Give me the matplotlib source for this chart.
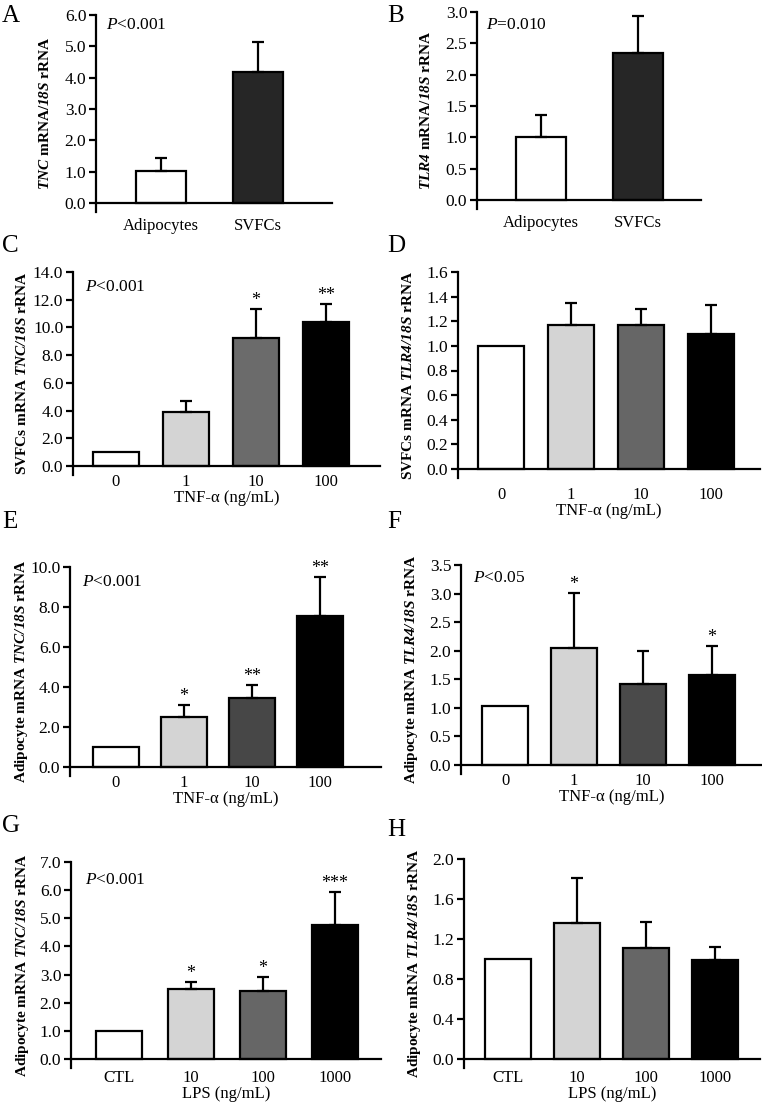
import numpy as np
import matplotlib
matplotlib.use("Agg")
import matplotlib.pyplot as plt

plt.rcParams['font.family'] = 'Liberation Serif'
plt.rcParams['mathtext.fontset'] = 'custom'
plt.rcParams['mathtext.rm'] = 'Liberation Serif'
plt.rcParams['mathtext.it'] = 'Liberation Serif:italic'
plt.rcParams['mathtext.bf'] = 'Liberation Serif:bold'
plt.rcParams['mathtext.bfit'] = 'Liberation Serif:italic:bold'

# data (bar height, top of error bar)
cells = ['Adipocytes', 'SVFCs']
tnf_doses = ['0', '1', '10', '100']
lps_doses = ['CTL', '10', '100', '1000']

a_mean = [1.01, 4.17]
a_top = [1.44, 5.14]
b_mean = [1.0, 2.34]
b_top = [1.35, 2.94]

c_mean = [1.0, 3.88, 9.26, 10.42]
c_top = [1.0, 4.66, 11.35, 11.7]
c_stars = ['', '', '*', '**']

d_mean = [1.0, 1.17, 1.17, 1.1]
d_top = [1.0, 1.35, 1.30, 1.33]

e_mean = [1.0, 2.52, 3.47, 7.53]
e_top = [1.0, 3.09, 4.1, 9.49]
e_stars = ['', '*', '**', '**']

f_mean = [1.03, 2.05, 1.42, 1.57]
f_top = [1.03, 3.01, 1.99, 2.09]
f_stars = ['', '*', '', '*']

g_mean = [1.0, 2.48, 2.42, 4.77]
g_top = [1.0, 2.72, 2.9, 5.93]
g_stars = ['', '*', '*', '***']

h_mean = [1.0, 1.36, 1.11, 0.99]
h_top = [1.0, 1.81, 1.37, 1.12]

W, H = 762, 1110
fig = plt.figure(figsize=(W / 100, H / 100), dpi=100)


def panel(box, c0, step, ymax, ystep, labels, means, tops, colors, letter, letter_xy,
          ylabel, ylab_x, stars=None, ptext=None, poff=(10, 10), xlabel=None, barw=46,
          xpad=6):
    left, right, top, zero = box
    ext = 9
    ax = fig.add_axes([left / W, 1 - (zero + ext) / H, (right - left) / W, (zero + ext - top) / H])
    n = len(means)
    x = np.arange(n)
    ax.bar(x, means, width=barw / step, color=colors, edgecolor='black', linewidth=1.6, zorder=2)
    idx = [i for i in range(n) if tops[i] > means[i]]
    err = [[0] * len(idx), [tops[i] - means[i] for i in idx]]
    ax.errorbar([x[i] for i in idx], [means[i] for i in idx], yerr=err, fmt='none',
                ecolor='black', elinewidth=1.6, capsize=4.3, capthick=1.6, zorder=3)
    if stars:
        for i, s in enumerate(stars):
            if s:
                ax.annotate(s, (x[i], tops[i]), xytext=(0, 0), textcoords='offset points',
                            ha='center', va='bottom', fontsize=13)
    ax.set_xlim(-(c0 - left) / step, (right - c0) / step)
    ax.set_ylim(-ext / (zero - top) * ymax, ymax)
    ax.set_yticks(np.arange(0, ymax + ystep / 2, ystep))
    ax.yaxis.set_major_formatter(matplotlib.ticker.FormatStrFormatter('%.1f'))
    ax.set_xticks(x)
    ax.set_xticklabels(labels)
    for s in ['top', 'right']:
        ax.spines[s].set_visible(False)
    ax.spines['bottom'].set_position(('data', 0))
    ax.spines['left'].set_linewidth(1.6)
    ax.spines['bottom'].set_linewidth(1.6)
    ax.tick_params(axis='y', direction='out', length=5, width=1.6, labelsize=12.5, pad=2)
    ax.tick_params(axis='x', length=0, labelsize=12, pad=xpad)
    if xlabel:
        ax.set_xlabel(xlabel, fontsize=12, labelpad=0)
    if ptext:
        fig.text((left + poff[0]) / W, 1 - (top + poff[1]) / H, ptext, fontsize=12.5,
                 ha='left', va='center')
    fig.text(ylab_x / W, 1 - (top + zero + ext) / 2 / H, ylabel, rotation=90, ha='center',
             va='center', fontsize=11, fontweight='bold')
    fig.text(letter_xy[0] / W, 1 - letter_xy[1] / H, letter, fontsize=18, ha='left', va='center')
    return ax


lab_tnc = r'$\mathbfit{TNC}$ mRNA/$\mathbfit{18S}$ rRNA'
lab_tlr = r'$\mathbfit{TLR4}$ mRNA/$\mathbfit{18S}$ rRNA'
lab_c = r'SVFCs mRNA $\mathbfit{TNC/18S}$ rRNA'
lab_d = r'SVFCs mRNA $\mathbfit{TLR4/18S}$ rRNA'
lab_e = r'Adipocyte mRNA $\mathbfit{TNC/18S}$ rRNA'
lab_f = r'Adipocyte mRNA $\mathbfit{TLR4/18S}$ rRNA'
tnf_x = 'TNF-α (ng/mL)'
lps_x = 'LPS (ng/mL)'

panel((96, 332, 15, 203), 161, 97, 6.0, 1.0, cells, a_mean, a_top, ['white', '#262626'],
      'A', (2, 16), lab_tnc, 45, ptext=r'$\mathit{P}$<0.001', poff=(10, 10), barw=50,
      xpad=11)
panel((477, 701, 12, 200), 541, 97, 3.0, 0.5, cells, b_mean, b_top, ['white', '#262626'],
      'B', (387, 16), lab_tlr, 426, ptext=r'$\mathit{P}$=0.010', poff=(9, 13), barw=50,
      xpad=11)
panel((73, 380, 272, 466), 116, 70, 14.0, 2.0, tnf_doses, c_mean, c_top,
      ['white', '#d4d4d4', '#6b6b6b', '#000000'], 'C', (2, 246), lab_c, 22,
      stars=c_stars, ptext=r'$\mathit{P}$<0.001', poff=(12, 15), xlabel=tnf_x)
panel((458, 760, 272, 469), 501, 70, 1.6, 0.2, tnf_doses, d_mean, d_top,
      ['white', '#d4d4d4', '#666666', '#000000'], 'D', (387, 246), lab_d, 408, xlabel=tnf_x,
      xpad=13)
panel((70, 381, 567, 767), 116, 68, 10.0, 2.0, tnf_doses, e_mean, e_top,
      ['white', '#d4d4d4', '#474747', '#000000'], 'E', (2, 522), lab_e, 22,
      stars=e_stars, ptext=r'$\mathit{P}$<0.001', poff=(12, 15), xlabel=tnf_x)
panel((461, 762, 565, 765), 505, 69, 3.5, 0.5, tnf_doses, f_mean, f_top,
      ['white', '#d4d4d4', '#4a4a4a', '#000000'], 'F', (387, 522), lab_f, 412,
      stars=f_stars, ptext=r'$\mathit{P}$<0.05', poff=(12, 13), xlabel=tnf_x)
panel((71, 381, 862, 1059), 119, 72, 7.0, 1.0, lps_doses, g_mean, g_top,
      ['white', '#d4d4d4', '#666666', '#000000'], 'G', (2, 826), lab_e, 23,
      stars=g_stars, ptext=r'$\mathit{P}$<0.001', poff=(14, 18), xlabel=lps_x, xpad=8)
panel((464, 760, 859, 1059), 508, 69, 2.0, 0.4, lps_doses, h_mean, h_top,
      ['white', '#d4d4d4', '#666666', '#000000'], 'H', (387, 830), lab_f, 415, xlabel=lps_x,
      xpad=8)

fig.savefig('out.png', dpi=100)
